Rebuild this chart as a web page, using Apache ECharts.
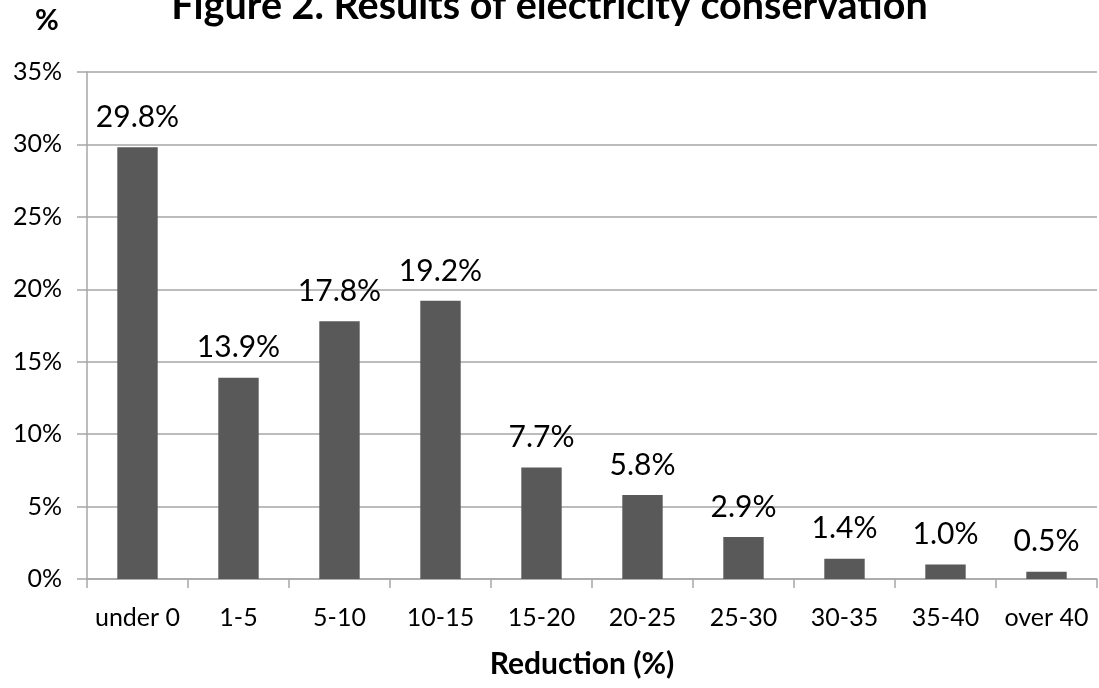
<!DOCTYPE html>
<html>
<head>
<meta charset="utf-8">
<script src="https://cdn.jsdelivr.net/npm/echarts@6/dist/echarts.min.js"></script>
<style>
  html, body { margin: 0; padding: 0; background: #fff; }
  #chart { width: 1099px; height: 688px; }
</style>
</head>
<body>
<div id="chart"></div>
<script>
// Share of households by electricity reduction band
const categories = ['under 0', '1-5', '5-10', '10-15', '15-20', '20-25', '25-30', '30-35', '35-40', 'over 40'];
const shares = [29.8, 13.9, 17.8, 19.2, 7.7, 5.8, 2.9, 1.4, 1.0, 0.5];

const FONT = 'Lato, "Open Sans", sans-serif';

const chart = echarts.init(document.getElementById('chart'));
chart.setOption({
  animation: false,
  backgroundColor: '#ffffff',
  title: {
    text: 'Figure 2. Results of electricity conservation',
    left: 'center',
    top: -14,
    padding: [0, 0, 0, 0],
    textStyle: { fontFamily: FONT, fontWeight: 'bold', fontSize: 39.5, color: '#000' }
  },
  grid: { left: 87, right: 2, top: 72, bottom: 109, containLabel: false },
  xAxis: {
    type: 'category',
    data: categories,
    name: 'Reduction (%)',
    nameLocation: 'middle',
    nameGap: 70,
    nameTextStyle: { fontFamily: FONT, fontWeight: 'bold', fontSize: 30, color: '#000', padding: [0, 20, 0, 0] },
    axisLine: { lineStyle: { color: '#a6a6a6', width: 1.5 } },
    axisTick: { show: true, alignWithLabel: false, length: 9, lineStyle: { color: '#a6a6a6', width: 1.5 } },
    axisLabel: { fontFamily: FONT, fontSize: 25, color: '#000', margin: 26, interval: 0 }
  },
  yAxis: {
    type: 'value',
    min: 0,
    max: 35,
    interval: 5,
    name: '%',
    nameLocation: 'end',
    nameGap: 37,
    nameTextStyle: { fontFamily: FONT, fontWeight: 'bold', fontSize: 29, color: '#000', padding: [0, 80, 0, 0] },
    axisLine: { show: true, lineStyle: { color: '#a6a6a6', width: 1.5 } },
    axisTick: { show: true, length: 10, lineStyle: { color: '#a6a6a6', width: 1.5 } },
    axisLabel: { fontFamily: FONT, fontSize: 25, color: '#000', margin: 25, formatter: '{value}%' },
    splitLine: { lineStyle: { color: '#a6a6a6', width: 1.5 } }
  },
  series: [{
    type: 'bar',
    data: shares,
    barWidth: '40%',
    itemStyle: { color: '#595959' },
    label: {
      show: true,
      position: 'top',
      distance: 15,
      fontFamily: FONT,
      fontSize: 30,
      color: '#000',
      formatter: p => p.value.toFixed(1) + '%'
    }
  }]
});
</script>
</body>
</html>
